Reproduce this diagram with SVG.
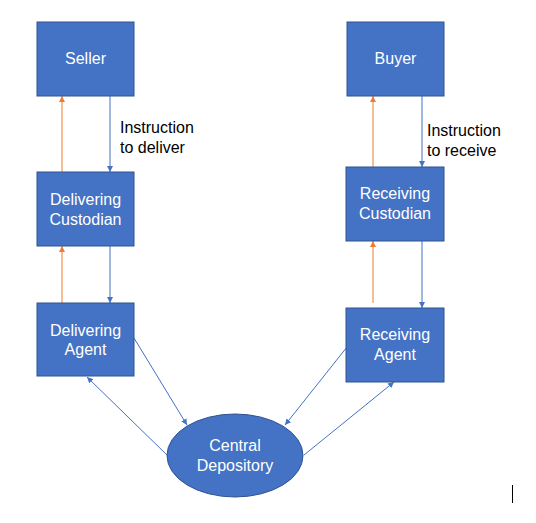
<svg xmlns="http://www.w3.org/2000/svg" width="536" height="523" viewBox="0 0 536 523">
<style>
.box{fill:#4472C4;stroke:#2F528F;stroke-width:1}
.lbl{font-family:"Liberation Sans",Arial,sans-serif;font-size:16px;fill:#ffffff;text-anchor:middle}
.note{font-family:"Liberation Sans",Arial,sans-serif;font-size:16px;fill:#000000}
.b{stroke:#4472C4;stroke-width:1;fill:none;marker-end:url(#ab)}
.o{stroke:#ED7D31;stroke-width:1;fill:none;marker-end:url(#ao)}
</style>
<defs>
<marker id="ab" viewBox="0 0 10 10" refX="10" refY="5" markerWidth="6" markerHeight="6" markerUnits="userSpaceOnUse" orient="auto"><path d="M0,0 L10,5 L0,10 z" fill="#4472C4"/></marker>
<marker id="ao" viewBox="0 0 10 10" refX="10" refY="5" markerWidth="6" markerHeight="6" markerUnits="userSpaceOnUse" orient="auto"><path d="M0,0 L10,5 L0,10 z" fill="#ED7D31"/></marker>
</defs>
<rect width="536" height="523" fill="#ffffff"/>
<g id="connectors">
<line class="o" x1="62" y1="172" x2="62" y2="96"/>
<line class="b" x1="110" y1="96" x2="110" y2="172"/>
<line class="o" x1="62" y1="303" x2="62" y2="246"/>
<line class="b" x1="110" y1="246" x2="110" y2="303"/>
<line class="o" x1="373" y1="167" x2="373" y2="96"/>
<line class="b" x1="422" y1="96" x2="422" y2="167"/>
<line class="o" x1="373" y1="303" x2="373" y2="241"/>
<line class="b" x1="422" y1="241" x2="422" y2="308"/>
<line class="b" x1="134" y1="338" x2="187" y2="425"/>
<line class="b" x1="167" y1="455" x2="87" y2="377"/>
<line class="b" x1="347" y1="347" x2="285" y2="425"/>
<line class="b" x1="304" y1="455" x2="394" y2="382"/>
</g>
<g id="seller"><rect class="box" x="37" y="22" width="97" height="74"/><text class="lbl" x="85.5" y="64">Seller</text></g>
<g id="buyer"><rect class="box" x="347" y="22" width="97" height="74"/><text class="lbl" x="395.5" y="64">Buyer</text></g>
<g id="delivering-custodian"><rect class="box" x="37" y="172" width="97" height="74"/><text class="lbl" x="85.5" y="205">Delivering</text><text class="lbl" x="85.5" y="225">Custodian</text></g>
<g id="receiving-custodian"><rect class="box" x="346" y="167" width="98" height="74"/><text class="lbl" x="395" y="199">Receiving</text><text class="lbl" x="395" y="219">Custodian</text></g>
<g id="delivering-agent"><rect class="box" x="37" y="303" width="97" height="73"/><text class="lbl" x="85.5" y="336">Delivering</text><text class="lbl" x="85.5" y="355">Agent</text></g>
<g id="receiving-agent"><rect class="box" x="346" y="308" width="98" height="74"/><text class="lbl" x="395" y="340">Receiving</text><text class="lbl" x="395" y="360">Agent</text></g>
<g id="central-depository"><ellipse class="box" cx="235" cy="455.5" rx="68" ry="41.5"/><text class="lbl" x="235" y="451">Central</text><text class="lbl" x="235" y="471">Depository</text></g>
<g id="labels">
<text class="note" x="120" y="133">Instruction</text>
<text class="note" x="120" y="153">to deliver</text>
<text class="note" x="427" y="136">Instruction</text>
<text class="note" x="427" y="156">to receive</text>
</g>
<line x1="512.5" y1="485" x2="512.5" y2="503" stroke="#000000" stroke-width="1"/>
</svg>
